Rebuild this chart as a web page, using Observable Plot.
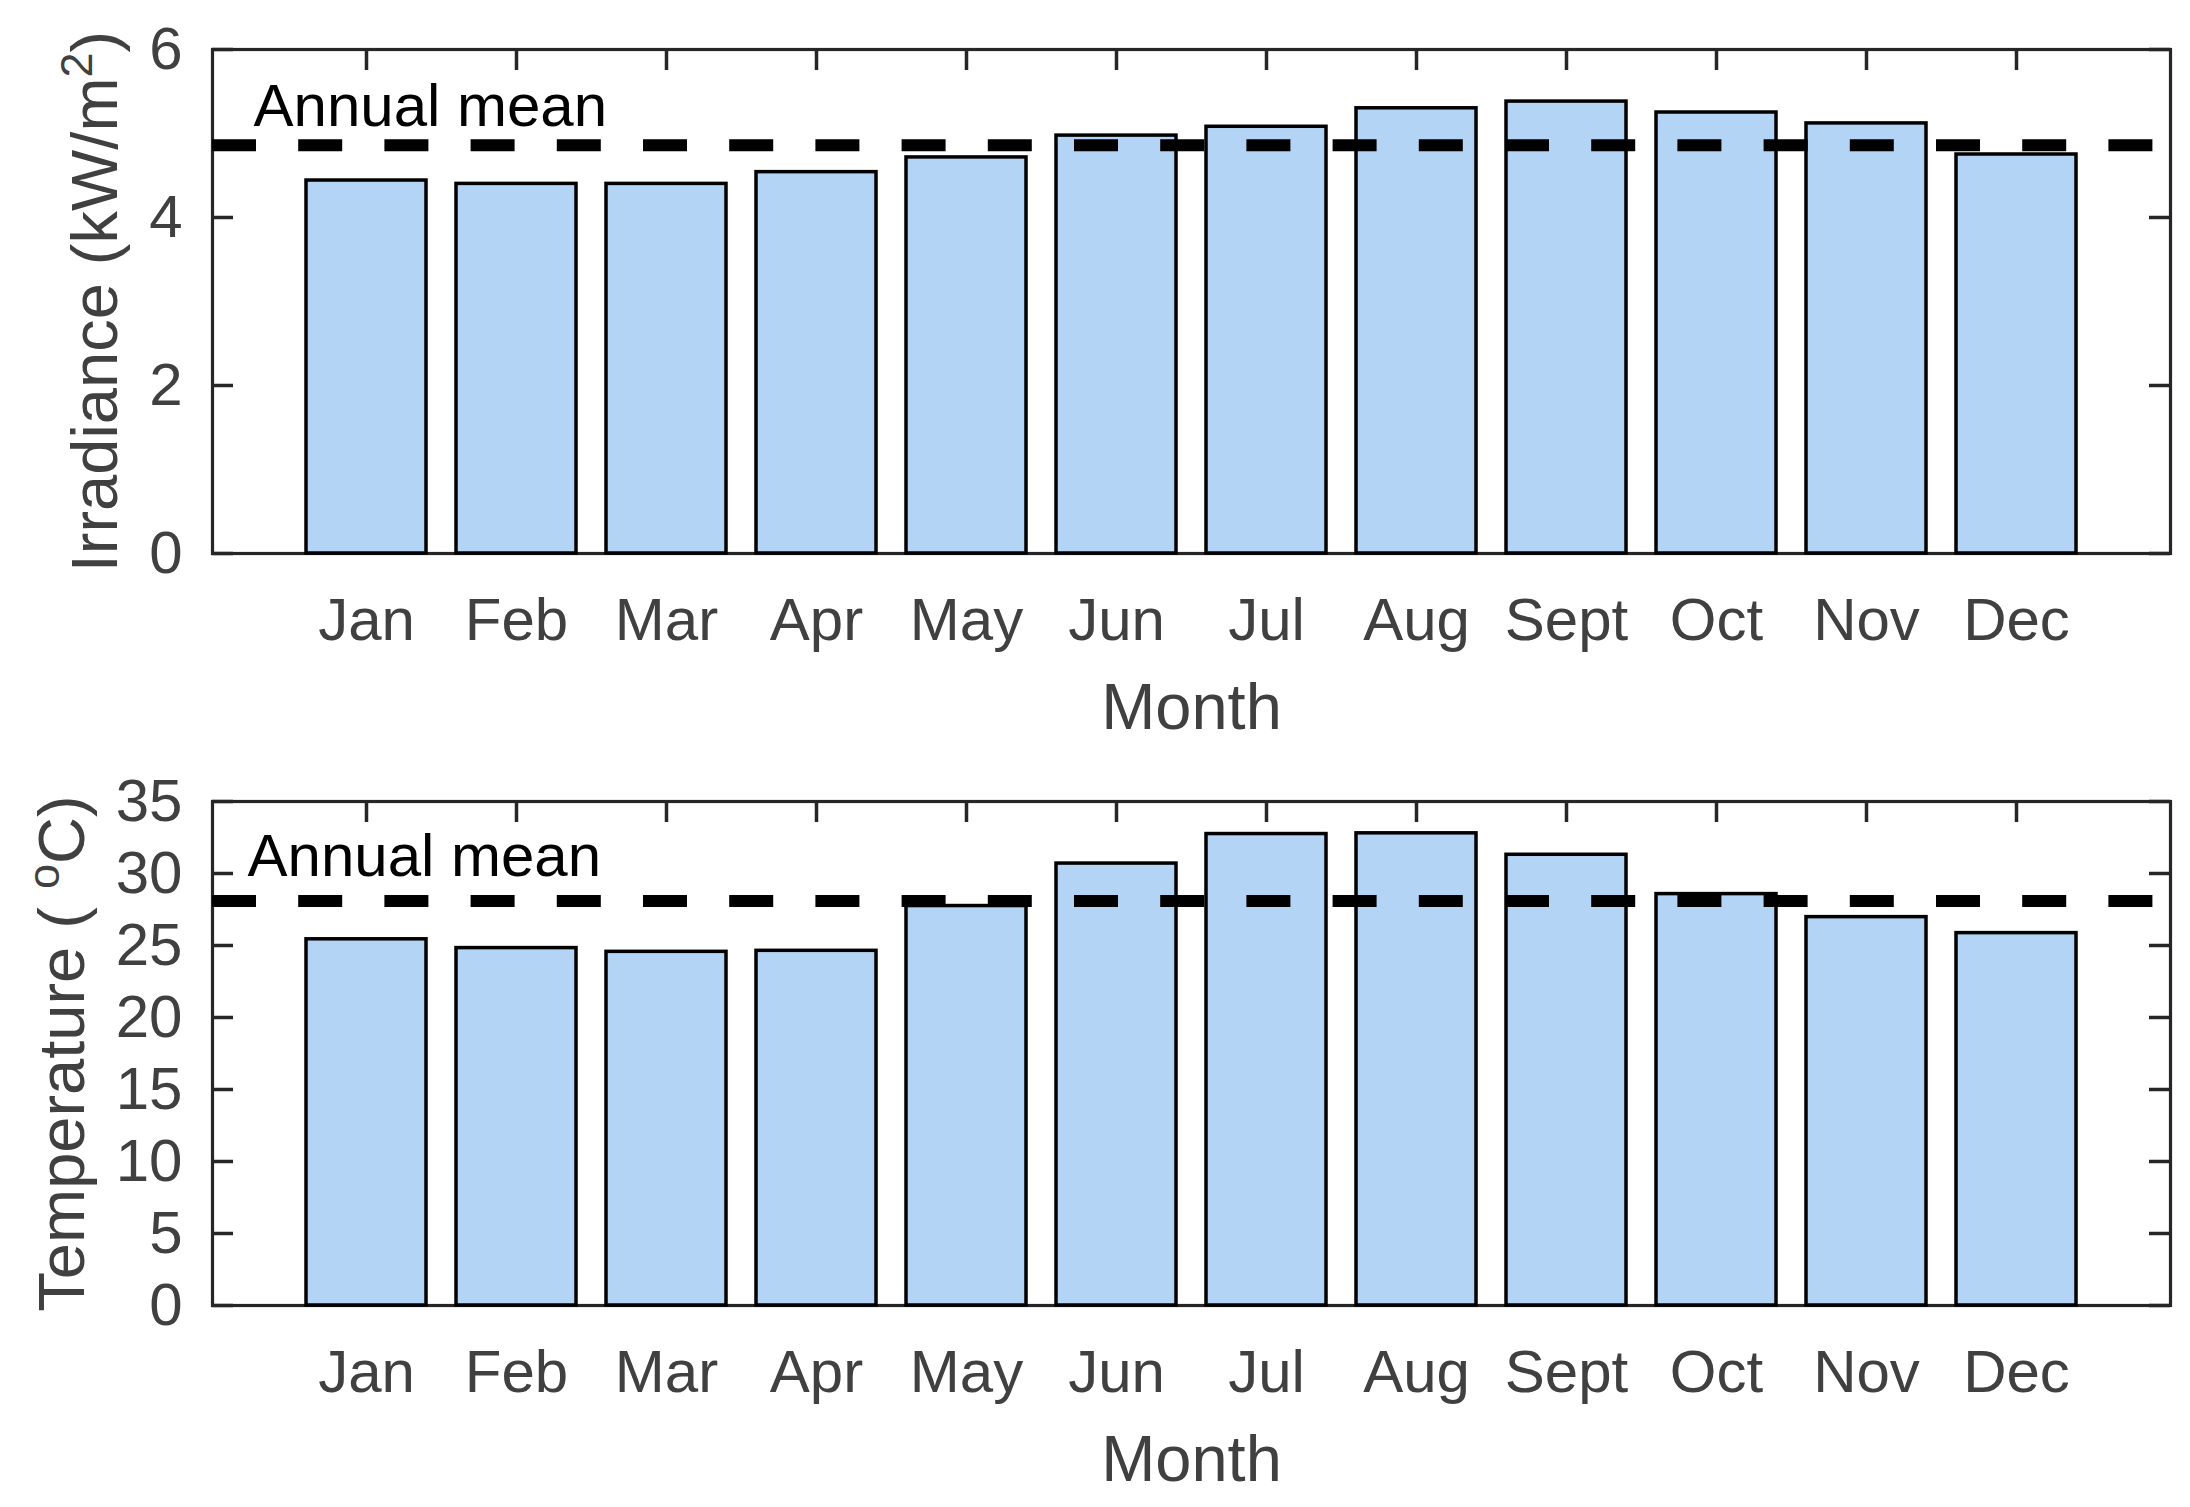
<!DOCTYPE html>
<html>
<head>
<meta charset="utf-8">
<script src="https://cdn.jsdelivr.net/npm/d3@7"></script>
<script src="https://cdn.jsdelivr.net/npm/@observablehq/plot@0.6"></script>
<style>
  html, body { margin: 0; padding: 0; background: white; }
  #chart svg { display: block; }
</style>
</head>
<body>
<div id="chart"></div>
<script>
// ---- data ----
const months = ["Jan", "Feb", "Mar", "Apr", "May", "Jun", "Jul", "Aug", "Sept", "Oct", "Nov", "Dec"];
const irradiance = [4.44, 4.40, 4.40, 4.54, 4.715, 4.975, 5.08, 5.30, 5.38, 5.25, 5.12, 4.75];
const temperature = [25.43, 24.82, 24.56, 24.63, 27.74, 30.69, 32.74, 32.79, 31.30, 28.57, 26.97, 25.86];
const irradianceMean = 4.86;
const temperatureMean = 28.09;
const irradianceTicks = [0, 2, 4, 6];
const temperatureTicks = [0, 5, 10, 15, 20, 25, 30, 35];
const meanLabel = "Annual mean";
const xLabel = "Month";
const irradianceLabel = ["Irradiance (kW/m", "2", ")"];
const temperatureLabel = ["Temperature ( ", "o", "C)"];

// ---- style ----
const W = 2190, ML = 212, MR = 20;
const AX = "#262626", TXT = "#404040", FILL = "#b3d4f5";
const FONT = "'Liberation Sans', Arial, Helvetica, sans-serif";
const TICK = 21;
const TICKFONT = 60, LABELFONT = 65, MEANFONT = 60;

function panel({values, mean, yMax, yTicks, label, height, marginTop, marginBottom, labelDx, textDx, textDy}) {
  const fw = W - ML - MR;
  const fh = height - marginTop - marginBottom;
  const data = months.map((m, i) => ({month: m, value: values[i]}));
  const labelText = label.join("");
  const svg = Plot.plot({
    width: W, height, marginLeft: ML, marginRight: MR, marginTop, marginBottom,
    style: {fontFamily: FONT, background: "white", overflow: "visible"},
    x: {type: "band", domain: months, paddingInner: 0.2, paddingOuter: 0.6, label: null},
    y: {domain: [0, yMax], label: null},
    marks: [
      Plot.frame({stroke: AX, strokeWidth: 3.2}),
      Plot.tickX(months, {x: d => d, stroke: AX, strokeWidth: 3.5, insetBottom: fh - TICK}),
      Plot.tickY(yTicks, {y: d => d, stroke: AX, strokeWidth: 3.5, insetRight: fw - TICK}),
      Plot.tickY(yTicks, {y: d => d, stroke: AX, strokeWidth: 3.5, insetLeft: fw - TICK}),
      Plot.barY(data, {x: "month", y: "value", fill: FILL, stroke: "black", strokeWidth: 3.5}),
      Plot.ruleY([mean], {stroke: "black", strokeWidth: 12, strokeDasharray: "44,42.2"}),
      Plot.text([mean], {y: d => d, text: () => meanLabel, frameAnchor: "left", textAnchor: "start",
        lineAnchor: "middle", dx: textDx, dy: textDy, fontSize: MEANFONT, fill: "black"}),
      Plot.axisX({tickSize: 0, tickPadding: 44, fontSize: TICKFONT, color: TXT, label: null}),
      Plot.axisY({ticks: yTicks, tickSize: 0, tickPadding: 30, fontSize: TICKFONT, color: TXT, label: null, tickFormat: d => String(d)}),
      Plot.text([xLabel], {frameAnchor: "bottom", textAnchor: "middle", lineAnchor: "bottom", dy: 175, fontSize: LABELFONT, fill: TXT}),
      Plot.text([labelText], {frameAnchor: "left", textAnchor: "middle", lineAnchor: "middle", dx: labelDx, rotate: -90, fontSize: LABELFONT, fill: TXT})
    ]
  });
  // superscript in the axis label
  svg.querySelectorAll("text").forEach(t => {
    if (t.textContent === labelText && t.childElementCount === 0) {
      t.textContent = "";
      const ns = "http://www.w3.org/2000/svg";
      const a = document.createElementNS(ns, "tspan");
      a.textContent = label[0];
      const b = document.createElementNS(ns, "tspan");
      b.textContent = label[1];
      b.setAttribute("font-size", "45");
      b.setAttribute("dy", "-25");
      const c = document.createElementNS(ns, "tspan");
      c.textContent = label[2];
      c.setAttribute("dy", "25");
      t.append(a, b, c);
    }
  });
  return svg;
}

const chart = document.getElementById("chart");
chart.append(panel({
  values: irradiance, mean: irradianceMean, yMax: 6, yTicks: irradianceTicks, label: irradianceLabel,
  height: 752, marginTop: 49, marginBottom: 199, labelDx: -116, textDx: 41, textDy: -38
}));
chart.append(panel({
  values: temperature, mean: temperatureMean, yMax: 35, yTicks: temperatureTicks, label: temperatureLabel,
  height: 755, marginTop: 49, marginBottom: 202, labelDx: -149, textDx: 35, textDy: -44
}));
</script>
</body>
</html>
